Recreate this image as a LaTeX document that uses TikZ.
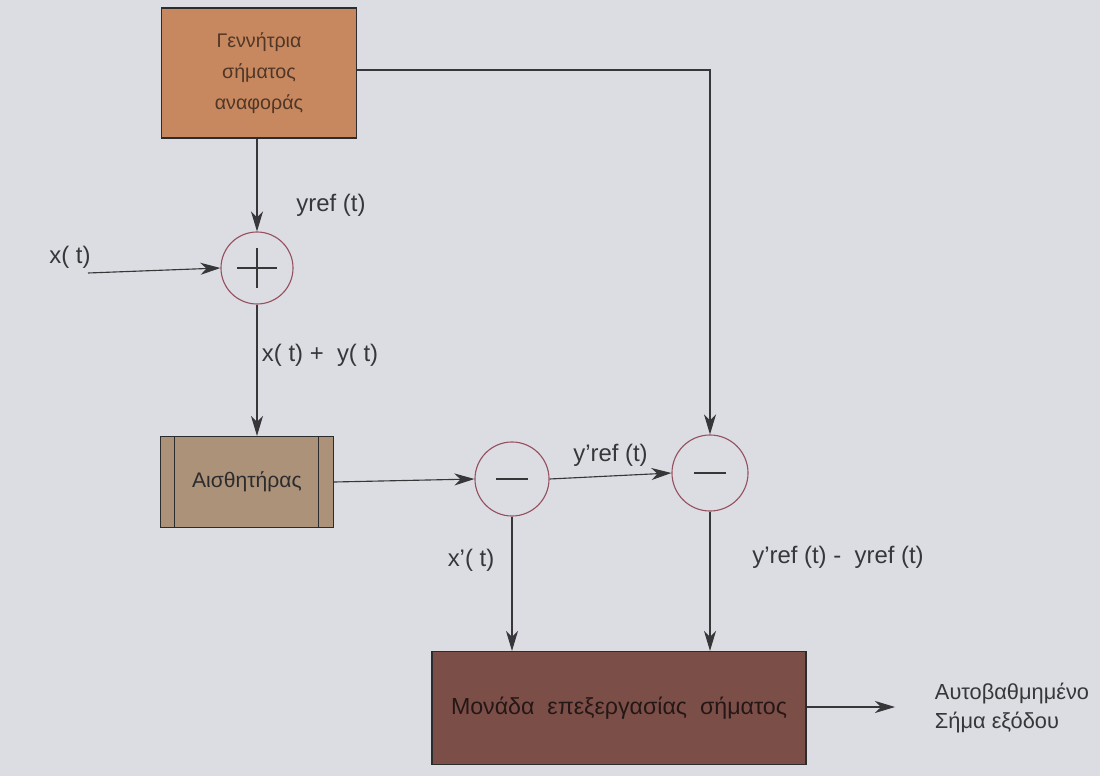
\documentclass[tikz,border=0pt]{standalone}
\usepackage{fontspec}
\setmainfont{Liberation Sans}
\usepackage{tikz}
\usetikzlibrary{positioning}
\usetikzlibrary{arrows,arrows.meta}
\usetikzlibrary{calc}

\definecolor{paper}{RGB}{219,221,226}
\definecolor{genfill}{RGB}{199,136,95}
\definecolor{sensfill}{RGB}{171,146,121}
\definecolor{procfill}{RGB}{124,78,72}
\definecolor{ringcol}{RGB}{150,80,95}
\definecolor{inkcol}{RGB}{55,55,58}

\tikzstyle{block} = [draw=inkcol!80!black, line width=0.8pt, rectangle, align=center]
\tikzstyle{junction} = [draw=ringcol, line width=0.8pt, circle, fill=paper, inner sep=0pt]
\tikzstyle{lbl} = [text=inkcol, font=\fontsize{17}{20}\selectfont]
\tikzstyle{coord} = [coordinate]

\begin{document}
\begin{tikzpicture}[x=0.025cm, y=-0.025cm, >={Stealth[length=5mm,width=3mm,inset=1.5mm]}]

    \fill[paper] (0,0) rectangle (1100,776);
    \useasboundingbox (0,0) rectangle (1100,776);

    % blocks
    \node[block, fill=genfill, minimum width=4.875cm, minimum height=3.25cm,
          text=genfill!40!black, font=\fontsize{14}{22}\selectfont]
          (gen) at (259,73) {Γεννήτρια\\σήματος\\αναφοράς};
    \node[block, fill=sensfill, minimum width=4.325cm, minimum height=2.275cm,
          text=inkcol!80!black, font=\fontsize{15}{18}\selectfont]
          (sens) at (247,482) {Αισθητήρας};
    \node[block, fill=procfill, minimum width=9.35cm, minimum height=2.825cm,
          text=procfill!30!black, font=\fontsize{16.5}{20}\selectfont]
          (proc) at (619,708) {Μονάδα\ \ επεξεργασίας\ \ σήματος};

    \draw[inkcol!80!black, line width=0.8pt] ($(sens.north west)+(15,0)$) -- ($(sens.south west)+(15,0)$);
    \draw[inkcol!80!black, line width=0.8pt] ($(sens.north east)+(-16,0)$) -- ($(sens.south east)+(-16,0)$);

    % junctions
    \node[junction, minimum size=1.8cm] (sum) at (257,268) {};
    \draw[inkcol, line width=0.8pt] ($(sum)+(-20,0)$) -- ($(sum)+(20,0)$) ($(sum)+(0,-20)$) -- ($(sum)+(0,20)$);
    \node[junction, minimum size=1.85cm] (dif1) at (512,479) {};
    \draw[inkcol, line width=0.8pt] ($(dif1)+(-16,0)$) -- ($(dif1)+(16,0)$);
    \node[junction, minimum size=1.9cm] (dif2) at (710,473) {};
    \draw[inkcol, line width=0.8pt] ($(dif2)+(-16,0)$) -- ($(dif2)+(16,0)$);

    \node[coord] (xin) at (88,273) {};
    \node[coord] (yout) at (895,707) {};

    % connectors
    \draw[->, inkcol, line width=0.8pt] (xin) -- (sum.west);
    \draw[->, inkcol, line width=0.8pt] (gen.south -| sum) -- (sum.north);
    \draw[->, inkcol, line width=0.8pt] (gen.east |- 0,70) -| (dif2.north);
    \draw[->, inkcol, line width=0.8pt] (sum.south) -- (sum.south |- sens.north);
    \draw[->, inkcol, line width=0.8pt] (sens.east) -- (dif1.west);
    \draw[->, inkcol, line width=0.8pt] (dif1.east) -- node[lbl, above=1mm] {y'ref (t)} (dif2.west);
    \draw[->, inkcol, line width=0.8pt] (dif1.south) -- (dif1.south |- proc.north);
    \draw[->, inkcol, line width=0.8pt] (dif2.south) -- (dif2.south |- proc.north);
    \draw[->, inkcol, line width=0.8pt] (proc.east |- yout) -- (yout);

    % labels
    \node[lbl] (xlbl) at (70,257) {x( t)};
    \node[lbl] (yreflbl) at (331,205) {yref (t)};
    \node[lbl, anchor=west] (sumlbl) at (257,355) {x( t) +\ \ y( t)};
    \node[lbl] (xplbl) at (471,560) {x'( t)};
    \node[lbl] (difflbl) at (838,557) {y'ref (t) -\ \ yref (t)};
    \node[lbl, align=left, anchor=west, font=\fontsize{15.5}{21}\selectfont]
          (outlbl) at (930,708) {Αυτοβαθμημένο\\Σήμα εξόδου};

\end{tikzpicture}
\end{document}
